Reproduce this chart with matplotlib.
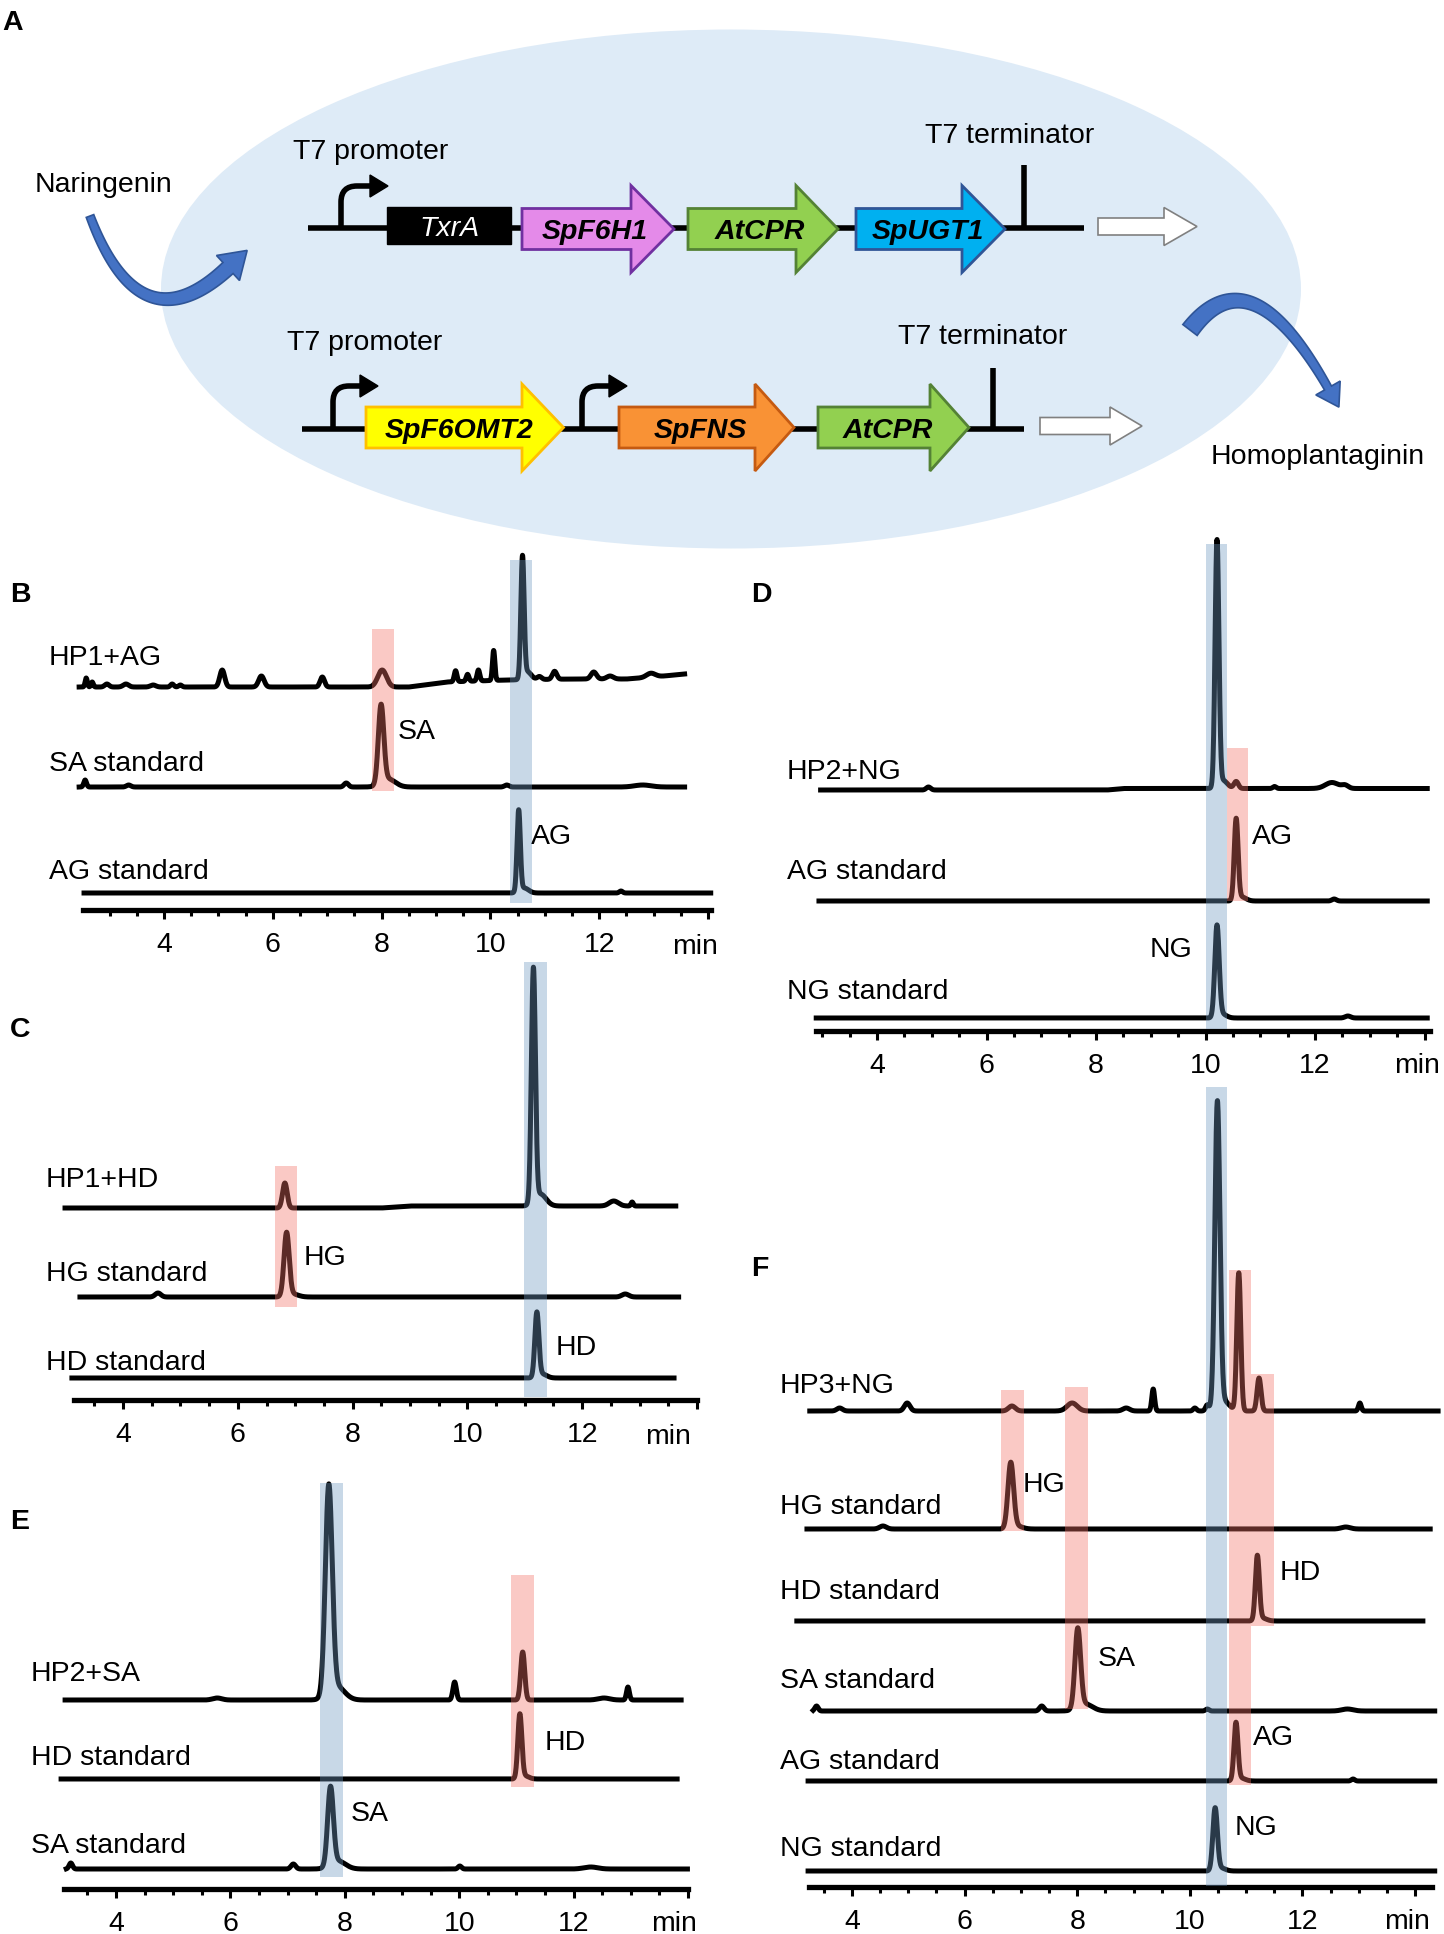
import numpy as np
import matplotlib
matplotlib.use('Agg')
import matplotlib.pyplot as plt
from matplotlib.patches import Ellipse, Polygon, Rectangle, PathPatch
from matplotlib.path import Path
from matplotlib.ticker import MultipleLocator

plt.rcParams['font.family'] = ['Liberation Sans', 'DejaVu Sans']

# ---------------- data (retention time min, peak height, peak sd) ----------------
# panel B
b_hp1_ag_rt = [2.57, 2.68, 2.95, 3.3, 3.8, 4.15, 4.3, 5.07, 5.79, 6.91, 8.01, 9.36, 9.58, 9.78, 10.06, 10.59, 10.68, 10.9, 11.18, 11.9, 12.2, 12.95]
b_hp1_ag_ht = [9, 5, 3, 3, 2, 3, 2, 17, 11, 10, 17, 11, 7, 11, 30, 121, 8, 3, 8, 7, 3, 4]
b_hp1_ag_sd = [0.02, 0.02, 0.04, 0.05, 0.05, 0.03, 0.03, 0.045, 0.05, 0.04, 0.08, 0.025, 0.025, 0.025, 0.022, 0.03, 0.07, 0.04, 0.04, 0.05, 0.06, 0.08]
b_hp1_ag_drift_t = [2.44, 8.5, 9.2, 10.3, 11.5, 12.5, 13.0, 13.57]
b_hp1_ag_drift_v = [0, 0, 5, 7, 8, 8, 10, 13]
b_sa_rt = [2.55, 3.35, 7.35, 7.99, 8.12, 10.3, 12.8]
b_sa_ht = [7, 2, 4, 78, 8, 2, 2]
b_sa_sd = [0.025, 0.04, 0.04, 0.05, 0.13, 0.04, 0.15]
b_ag_rt = [10.52, 10.62, 12.4]
b_ag_ht = [81, 5, 2]
b_ag_sd = [0.03, 0.08, 0.03]

# panel C
c_hp1_hd_rt = [6.82, 11.15, 11.27, 12.55, 12.87]
c_hp1_hd_ht = [25, 233, 12, 5, 4]
c_hp1_hd_sd = [0.04, 0.035, 0.1, 0.08, 0.02]
c_hp1_hd_drift_t = [2.99, 8.5, 9.0, 13.63]
c_hp1_hd_drift_v = [0, 0, 2, 2]
c_hg_rt = [4.61, 6.85, 6.95, 12.75]
c_hg_ht = [4, 63, 3, 3]
c_hg_sd = [0.05, 0.045, 0.1, 0.06]
c_hd_rt = [11.21, 11.3]
c_hd_ht = [64, 4]
c_hd_sd = [0.035, 0.08]

# panel D
d_hp2_ng_rt = [4.94, 10.21, 10.32, 10.56, 11.26, 12.31, 12.55]
d_hp2_ng_ht = [3, 246, 8, 7, 2, 6, 3]
d_hp2_ng_sd = [0.04, 0.035, 0.08, 0.04, 0.03, 0.12, 0.06]
d_hp2_ng_drift_t = [2.97, 8.2, 8.5, 14.05]
d_hp2_ng_drift_v = [0, 0, 1.5, 1.5]
d_ag_rt = [10.56, 10.66, 12.35]
d_ag_ht = [81, 4, 2]
d_ag_sd = [0.035, 0.08, 0.04]
d_ng_rt = [10.21, 10.3, 12.6]
d_ng_ht = [91, 4, 2]
d_ng_sd = [0.04, 0.08, 0.05]

# panel E
e_hp2_sa_rt = [5.77, 7.72, 7.85, 9.92, 11.11, 12.53, 12.95]
e_hp2_sa_ht = [2, 207, 14, 18, 48, 2, 13]
e_hp2_sa_sd = [0.08, 0.06, 0.14, 0.03, 0.035, 0.1, 0.025]
e_hd_rt = [11.06, 11.15]
e_hd_ht = [64, 3]
e_hd_sd = [0.035, 0.07]
e_sa_rt = [3.21, 7.1, 7.75, 7.88, 10.01, 12.3]
e_sa_ht = [6, 5, 78, 8, 3, 2]
e_sa_sd = [0.03, 0.04, 0.05, 0.13, 0.03, 0.12]

# panel F
f_hp3_ng_rt = [3.78, 4.98, 6.84, 7.91, 8.87, 9.35, 10.09, 10.31, 10.49, 10.6, 10.87, 11.23, 13.02]
f_hp3_ng_ht = [3, 8, 5, 8, 3, 22, 3, 6, 305, 10, 138, 33, 8]
f_hp3_ng_sd = [0.05, 0.05, 0.06, 0.09, 0.06, 0.025, 0.03, 0.03, 0.045, 0.1, 0.035, 0.035, 0.025]
f_hg_rt = [4.55, 6.82, 6.92, 12.77]
f_hg_ht = [3, 65, 3, 2]
f_hg_sd = [0.06, 0.05, 0.1, 0.08]
f_hd_rt = [11.2, 11.28]
f_hd_ht = [64, 3]
f_hd_sd = [0.035, 0.08]
f_sa_rt = [3.37, 7.37, 8.01, 8.14, 10.31, 12.8]
f_sa_ht = [5, 5, 79, 7, 2, 2]
f_sa_sd = [0.03, 0.04, 0.05, 0.13, 0.03, 0.1]
f_ag_rt = [10.82, 10.9, 12.9]
f_ag_ht = [57, 3, 2]
f_ag_sd = [0.035, 0.08, 0.03]
f_ng_rt = [10.45, 10.55]
f_ng_ht = [62, 3]
f_ng_sd = [0.04, 0.08]

# panel A genes
row1_genes = ['SpF6H1', 'AtCPR', 'SpUGT1']
row1_fc = ['#E48AE9', '#92D050', '#00B0F0']
row1_ec = ['#7030A0', '#548235', '#2F5597']
row2_genes = ['SpF6OMT2', 'SpFNS', 'AtCPR']
row2_fc = ['#FFFF00', '#F99235', '#92D050']
row2_ec = ['#FFC000', '#C55A11', '#548235']

# ---------------- figure ----------------
W, H = 1444, 1934
FS = 20.5
BLUE = '#6F99C2'
PINK = '#F47367'
ALPHA = 0.38

fig = plt.figure(figsize=(W / 100, H / 100), dpi=100)
ov = fig.add_axes([0, 0, 1, 1])
ov.set_xlim(0, W)
ov.set_ylim(H, 0)
ov.axis('off')


def txt(x, y, s, **kw):
    ov.text(x, y, s, fontsize=kw.pop('fontsize', FS), va='baseline', ha=kw.pop('ha', 'left'), **kw)


def panel(x4, ppm, t0, t1, y_axis, y_top):
    px0 = x4 + (t0 - 4) * ppm
    px1 = x4 + (t1 - 4) * ppm
    ax = fig.add_axes([px0 / W, 1 - y_axis / H, (px1 - px0) / W, (y_axis - y_top) / H])
    ax.set_xlim(t0, t1)
    ax.set_ylim(0, y_axis - y_top)
    ax.patch.set_alpha(0)
    for s in ['top', 'right', 'left']:
        ax.spines[s].set_visible(False)
    ax.spines['bottom'].set_linewidth(3.8)
    ax.set_yticks([])
    ticks = [v for v in range(4, 16, 2) if t0 <= v <= t1 + 0.01]
    ax.set_xticks(ticks, labels=[str(v) if v <= 12 else '' for v in ticks])
    ax.xaxis.set_minor_locator(MultipleLocator(0.5))
    ax.tick_params(axis='x', which='major', length=6.8, width=2.2, labelsize=FS, pad=9)
    ax.tick_params(axis='x', which='minor', length=4, width=2.2)
    ax.y_axis = y_axis
    return ax


def trace(ax, t_start, t_end, y_base, rt, ht, sd, drift_t=None, drift_v=None):
    t = np.linspace(t_start, t_end, 3000)
    y = np.zeros_like(t)
    for r, h, s in zip(rt, ht, sd):
        y += h * np.exp(-0.5 * ((t - r) / s) ** 2)
    if drift_t is not None:
        y += np.interp(t, drift_t, drift_v)
    ax.plot(t, y + (ax.y_axis - y_base), color='black', lw=3.6, zorder=2, clip_on=False)


def box(ax, t0, t1, ytop, ybot, color):
    ax.add_patch(Rectangle((t0, ax.y_axis - ybot), t1 - t0, ybot - ytop, fc=color,
                           ec='none', alpha=ALPHA, zorder=3, clip_on=False))


# ---------------- panel A ----------------
ov.add_patch(Ellipse((731, 289), 1140, 519, fc='#DEEBF7', ec='none', zorder=0))
txt(2, 30, 'A', fontweight='bold')


def gene_arrow(x0, xb, x1, yc, bh, hh, fc, ec, lw=2):
    pts = [(x0, yc - bh / 2), (xb, yc - bh / 2), (xb, yc - hh / 2), (x1, yc),
           (xb, yc + hh / 2), (xb, yc + bh / 2), (x0, yc + bh / 2)]
    ov.add_patch(Polygon(pts, closed=True, fc=fc, ec=ec, lw=lw, zorder=3))


def promoter(x, yline, ytop, tip):
    verts = [(x, yline), (x, ytop + 16), (x, ytop), (x + 16, ytop), (tip - 16, ytop)]
    codes = [Path.MOVETO, Path.LINETO, Path.CURVE3, Path.CURVE3, Path.LINETO]
    ov.add_patch(PathPatch(Path(verts, codes), fc='none', ec='black', lw=4, zorder=4, capstyle='butt'))
    ov.add_patch(Polygon([(tip - 18, ytop - 11), (tip - 18, ytop + 11), (tip, ytop)],
                         closed=True, fc='black', ec='black', lw=1, zorder=4))


def curved_arrow(p0, p1, p2, w0, w1, head_w, head_len):
    p0, p1, p2 = np.array(p0, float), np.array(p1, float), np.array(p2, float)
    t = np.linspace(0, 1, 80)
    pts = ((1 - t) ** 2)[:, None] * p0 + (2 * (1 - t) * t)[:, None] * p1 + (t ** 2)[:, None] * p2
    d = np.gradient(pts, axis=0)
    d /= np.linalg.norm(d, axis=1)[:, None]
    n = np.stack([-d[:, 1], d[:, 0]], axis=1)
    w = w0 + (w1 - w0) * t
    left = pts + n * (w / 2)[:, None]
    right = pts - n * (w / 2)[:, None]
    tip = p2 + d[-1] * head_len
    hl = p2 + n[-1] * head_w / 2
    hr = p2 - n[-1] * head_w / 2
    poly = np.vstack([left, hl, tip, hr, right[::-1]])
    ov.add_patch(Polygon(poly, closed=True, fc='#4472C4', ec='#2F5597', lw=1.2, zorder=3))


# row 1
ov.plot([308, 1084], [227.5, 227.5], color='black', lw=4, solid_capstyle='butt', zorder=2)
promoter(341, 227.5, 186, 388)
ov.add_patch(Rectangle((387, 207), 124, 37, fc='black', ec='black', zorder=3))
ov.text(449, 236, 'TxrA', color='white', fontsize=FS, style='italic', ha='center', va='baseline', zorder=5)
row1_x = [(522, 631, 674), (688, 796, 838), (856, 962, 1005)]
for (x0, xb, x1), g, fc, ec in zip(row1_x, row1_genes, row1_fc, row1_ec):
    gene_arrow(x0, xb, x1, 229, 41, 87, fc, ec)
    ov.text((x0 + x1) / 2 - 3, 239, g, fontsize=FS, fontweight='bold', style='italic',
            ha='center', va='baseline', zorder=5)
ov.plot([1024, 1024], [165, 228], color='black', lw=4, solid_capstyle='butt', zorder=4)
gene_arrow(1098, 1164, 1197, 226.5, 17, 38, 'white', '#808080', lw=1.2)
txt(293, 159, 'T7 promoter')
txt(925, 143, 'T7 terminator')

# row 2
ov.plot([302, 1024], [428.5, 428.5], color='black', lw=4, solid_capstyle='butt', zorder=2)
promoter(333, 428.5, 386, 378)
promoter(582, 428.5, 386, 627)
row2_x = [(366, 522, 563.5), (619, 755, 794), (818, 930, 969)]
for (x0, xb, x1), g, fc, ec in zip(row2_x, row2_genes, row2_fc, row2_ec):
    gene_arrow(x0, xb, x1, 427.5, 41, 87, fc, ec)
    ov.text((x0 + x1) / 2 - 6, 437.5, g, fontsize=FS, fontweight='bold', style='italic',
            ha='center', va='baseline', zorder=5)
ov.plot([993, 993], [368, 429], color='black', lw=4, solid_capstyle='butt', zorder=4)
gene_arrow(1040, 1110, 1142, 426, 17, 38, 'white', '#808080', lw=1.2)
txt(287, 350, 'T7 promoter')
txt(898, 344, 'T7 terminator')

txt(35, 192, 'Naringenin')
txt(1211, 464, 'Homoplantaginin')
curved_arrow((90, 216), (140, 350), (228, 268), 8, 15, 34, 26)
curved_arrow((1190, 330), (1250, 250), (1328, 388), 18, 8, 28, 22)

# ---------------- panel B ----------------
axB = panel(164, 54.4, 2.52, 14.05, 910, 540)
trace(axB, 2.44, 13.57, 687, b_hp1_ag_rt, b_hp1_ag_ht, b_hp1_ag_sd, b_hp1_ag_drift_t, b_hp1_ag_drift_v)
trace(axB, 2.44, 13.57, 787, b_sa_rt, b_sa_ht, b_sa_sd)
trace(axB, 2.53, 14.05, 893, b_ag_rt, b_ag_ht, b_ag_sd)
box(axB, 7.83, 8.22, 629, 791, PINK)
box(axB, 10.36, 10.76, 560, 903, BLUE)
txt(10, 602, 'B', fontweight='bold')
txt(49, 665, 'HP1+AG')
txt(49, 771, 'SA standard')
txt(49, 879, 'AG standard')
txt(398, 739, 'SA')
txt(531, 844, 'AG')
txt(672, 954, 'min')

# ---------------- panel C ----------------
axC = panel(123, 57.4, 3.15, 14.0, 1400, 960)
trace(axC, 2.99, 13.63, 1208, c_hp1_hd_rt, c_hp1_hd_ht, c_hp1_hd_sd, c_hp1_hd_drift_t, c_hp1_hd_drift_v)
trace(axC, 3.25, 13.68, 1297, c_hg_rt, c_hg_ht, c_hg_sd)
trace(axC, 3.11, 13.6, 1378, c_hd_rt, c_hd_ht, c_hd_sd)
box(axC, 6.65, 7.04, 1166, 1307, PINK)
box(axC, 10.98, 11.38, 962, 1397, BLUE)
txt(10, 1037, 'C', fontweight='bold')
txt(46, 1187, 'HP1+HD')
txt(46, 1281, 'HG standard')
txt(46, 1370, 'HD standard')
txt(304, 1265, 'HG')
txt(556, 1355, 'HD')
txt(645, 1444, 'min')

# ---------------- panel D ----------------
axD = panel(877, 54.75, 2.88, 14.1, 1031, 540)
trace(axD, 2.97, 14.05, 790, d_hp2_ng_rt, d_hp2_ng_ht, d_hp2_ng_sd, d_hp2_ng_drift_t, d_hp2_ng_drift_v)
trace(axD, 2.94, 14.05, 901, d_ag_rt, d_ag_ht, d_ag_sd)
trace(axD, 2.89, 14.05, 1018, d_ng_rt, d_ng_ht, d_ng_sd)
box(axD, 10.01, 10.4, 544, 1029, BLUE)
box(axD, 10.4, 10.77, 748, 901, PINK)
txt(751, 602, 'D', fontweight='bold')
txt(787, 779, 'HP2+NG')
txt(787, 879, 'AG standard')
txt(787, 999, 'NG standard')
txt(1252, 844, 'AG')
txt(1150, 957, 'NG')
txt(1394, 1073, 'min')

# ---------------- panel E ----------------
axE = panel(116, 57.2, 3.09, 14.0, 1889, 1440)
trace(axE, 3.11, 13.88, 1700, e_hp2_sa_rt, e_hp2_sa_ht, e_hp2_sa_sd)
trace(axE, 3.04, 13.81, 1779, e_hd_rt, e_hd_ht, e_hd_sd)
trace(axE, 3.13, 13.99, 1869, e_sa_rt, e_sa_ht, e_sa_sd)
box(axE, 7.57, 7.96, 1483, 1877, BLUE)
box(axE, 10.9, 11.3, 1575, 1787, PINK)
txt(10, 1529, 'E', fontweight='bold')
txt(31, 1681, 'HP2+SA')
txt(31, 1765, 'HD standard')
txt(31, 1853, 'SA standard')
txt(545, 1750, 'HD')
txt(351, 1821, 'SA')
txt(651, 1931, 'min')

# ---------------- panel F ----------------
axF = panel(852, 56.3, 3.24, 14.3, 1887, 1080)
trace(axF, 3.25, 14.41, 1411, f_hp3_ng_rt, f_hp3_ng_ht, f_hp3_ng_sd)
trace(axF, 3.2, 14.27, 1529, f_hg_rt, f_hg_ht, f_hg_sd)
trace(axF, 3.02, 14.14, 1621, f_hd_rt, f_hd_ht, f_hd_sd)
trace(axF, 3.31, 14.35, 1711, f_sa_rt, f_sa_ht, f_sa_sd)
trace(axF, 3.22, 14.35, 1781, f_ag_rt, f_ag_ht, f_ag_sd)
trace(axF, 3.22, 14.35, 1871, f_ng_rt, f_ng_ht, f_ng_sd)
box(axF, 10.28, 10.66, 1087, 1886, BLUE)
box(axF, 6.65, 7.05, 1390, 1531, PINK)
box(axF, 7.79, 8.19, 1387, 1709, PINK)
box(axF, 10.69, 11.09, 1270, 1785, PINK)
box(axF, 11.09, 11.49, 1374, 1626, PINK)
txt(751, 1276, 'F', fontweight='bold')
txt(780, 1393, 'HP3+NG')
txt(780, 1514, 'HG standard')
txt(780, 1599, 'HD standard')
txt(780, 1688, 'SA standard')
txt(780, 1769, 'AG standard')
txt(780, 1856, 'NG standard')
txt(1023, 1492, 'HG')
txt(1280, 1580, 'HD')
txt(1098, 1666, 'SA')
txt(1253, 1745, 'AG')
txt(1235, 1835, 'NG')
txt(1384, 1929, 'min')

fig.savefig('out.png', dpi=100)
